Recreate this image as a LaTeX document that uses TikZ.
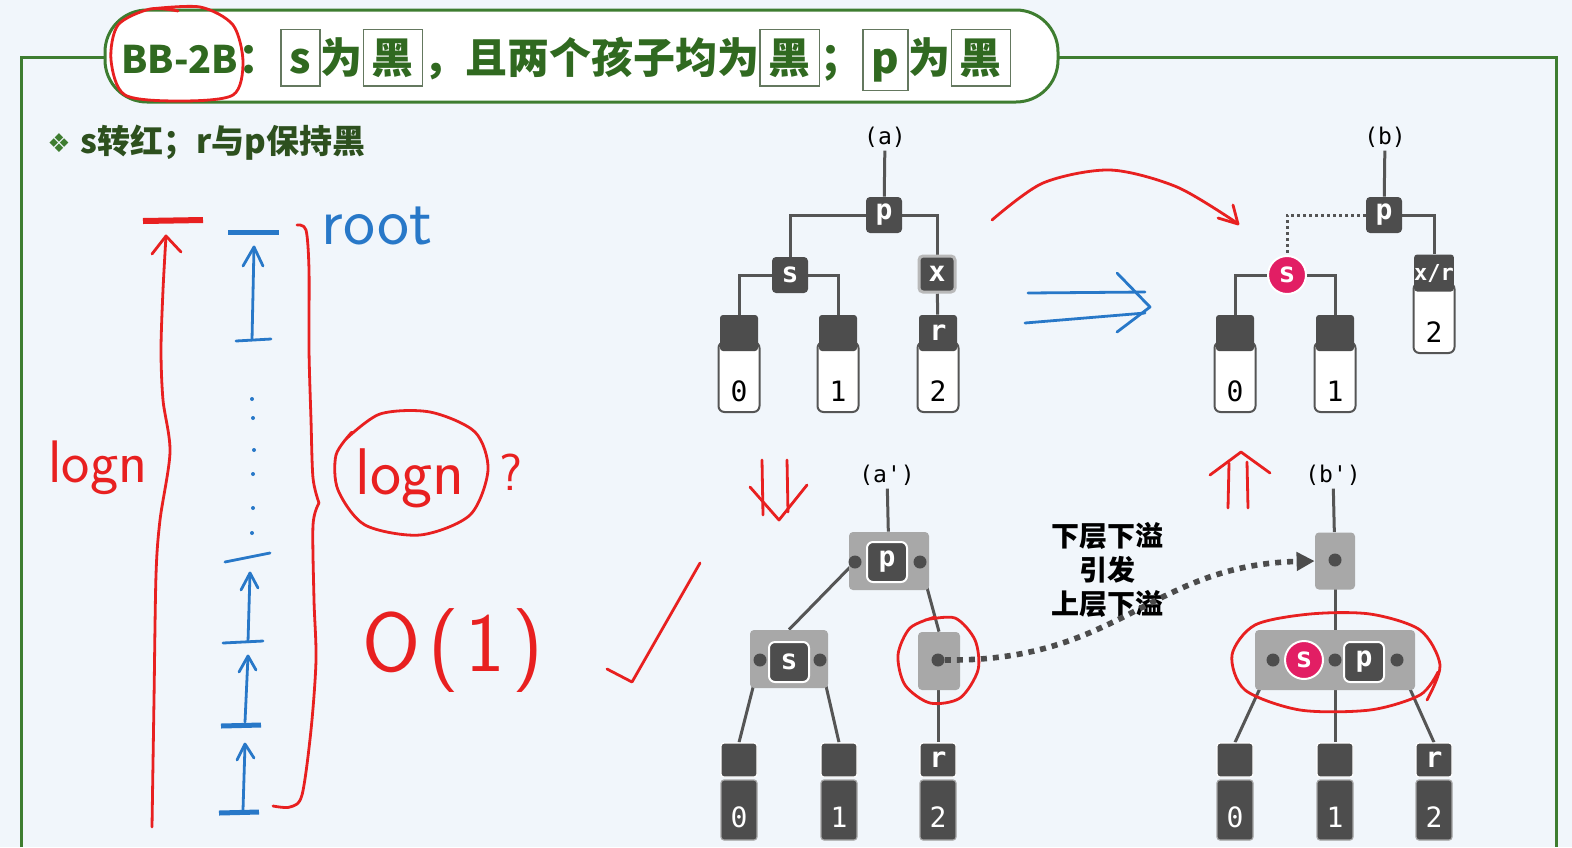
\documentclass[tikz,border=0pt]{standalone}
\usepackage{fontspec}
\usetikzlibrary{arrows.meta}
\newfontfamily\cjk{Noto Sans CJK SC}
\newfontfamily\monof{DejaVu Sans Mono}
\newfontfamily\dejav{DejaVu Sans}
\definecolor{bgc}{RGB}{241,246,251}
\definecolor{framec}{RGB}{62,125,48}
\definecolor{titlec}{RGB}{48,105,32}
\definecolor{subc}{RGB}{45,80,30}
\definecolor{boxc}{RGB}{100,120,95}
\definecolor{nodec}{RGB}{77,77,77}
\definecolor{edgec}{RGB}{85,85,85}
\definecolor{groupc}{RGB}{168,168,168}
\definecolor{pinkc}{RGB}{226,30,100}
\definecolor{redpen}{RGB}{232,32,32}
\definecolor{bluepen}{RGB}{40,120,200}
\pgfdeclarelayer{back}\pgfdeclarelayer{bg}
\pgfsetlayers{back,bg,main}
\newcommand\tb[1]{\fcolorbox{boxc}{white}{\vphantom{黑}#1}}
\setlength\fboxsep{4pt}
\setlength\fboxrule{0.7pt}
\tikzset{
 edge/.style={draw=edgec, line width=1.5pt},
 dk/.style={fill=nodec, rounded corners=2pt, minimum size=18pt, inner sep=0pt, text=white, font=\monof\bfseries\fontsize{14}{14}\selectfont},
 dkw/.style={dk, draw=white, line width=1pt, minimum size=20pt, rounded corners=3pt},
 ltop/.style={fill=nodec, minimum width=19pt, minimum height=18pt, inner sep=0pt, rounded corners=1.5pt, text=white, font=\monof\bfseries\fontsize{14}{14}\selectfont},
 lwhite/.style={draw=edgec, fill=white, line width=1pt, minimum width=20.5pt, minimum height=35pt, rounded corners=3pt, inner sep=0pt},
 ldark/.style={fill=nodec, draw=gray!70, line width=0.6pt, minimum width=18pt, minimum height=30pt, inner sep=0pt, rounded corners=1.5pt},
 ltopd/.style={ltop, draw=white, line width=0.6pt, minimum width=18pt, minimum height=17pt},
 digit/.style={font=\monof\fontsize{14}{14}\selectfont, inner sep=0pt},
 wdigit/.style={digit, text=white},
 grp/.style={fill=groupc, rounded corners=2pt, inner sep=0pt},
 dotn/.style={circle, fill=nodec, minimum size=6.5pt, inner sep=0pt},
 redc/.style={circle, fill=pinkc, draw=white, line width=1pt, minimum size=19pt, inner sep=0pt, text=white, font=\monof\bfseries\fontsize{14}{14}\selectfont},
 lab/.style={font=\monof\fontsize{11.5}{11.5}\selectfont, inner sep=1.5pt},
 dotline/.style={draw=edgec, line width=1.5pt, dash pattern=on 1.5pt off 1.5pt},
 dotarr/.style={draw=edgec!90!black, line width=2.8pt, dash pattern=on 3pt off 3pt, -{Triangle[length=9pt,width=9pt]}},
 rp/.style={draw=redpen, line width=1.4pt, line cap=round, line join=round},
 bp/.style={draw=bluepen, line width=1.4pt, line cap=round, line join=round},
 hand/.style={inner sep=0pt, font=\sffamily\fontsize{#1}{#1}\selectfont},
 frame/.style={draw=framec, line width=1.5pt},
}
\begin{document}
\begin{tikzpicture}[x=0.5pt,y=-0.5pt]
\begin{pgfonlayer}{back}
\fill[bgc] (0,0) rectangle (1572,847);
\end{pgfonlayer}
\useasboundingbox (0,0) rectangle (1572,847);

% frame and title
\draw[frame] (21,847) -- (21,57) -- (105,57);
\draw[frame] (1058,57) -- (1556,57) -- (1556,847);
\node[draw=framec, fill=white, line width=1.5pt, rounded corners=21pt, minimum width=476.5pt, minimum height=46pt, inner sep=0pt] (tbox) at (581.5,56) {};
\node[anchor=base west, inner sep=0pt, text=titlec, font=\cjk\bfseries\fontsize{21}{21}\selectfont] (ttext) at (121,73) {{\fontsize{19}{19}\selectfont BB-2B}：\tb{s}为\tb{黑}，且两个孩子均为\tb{黑}；\tb{p}为\tb{黑}};
\node[anchor=west, inner sep=0pt, text=framec, font=\dejav\fontsize{13}{13}\selectfont] (bul) at (47,143) {❖};
\node[anchor=west, inner sep=0pt, text=subc, font=\cjk\bfseries\fontsize{16.5}{16.5}\selectfont] (sub) at (80,143) {s转红；r与p保持黑};

% ---------- tree (a)
\node[lab] (la) at (885,137) {(a)};
\node[dk] (ap) at (884,215) {p};
\node[dk] (as) at (790,275) {s};
\node[dk, draw=gray!55, line width=1.5pt] (ax) at (937,274) {x};
\node[lwhite] (a0w) at (739,377) {};
\node[ltop] (a0) at (739,333) {};
\node[digit] (a0n) at (739,391) {0};
\node[lwhite] (a1w) at (838,377) {};
\node[ltop] (a1) at (838,333) {};
\node[digit] (a1n) at (838,391) {1};
\node[lwhite] (arw) at (938,377) {};
\node[ltop] (ar) at (938,333) {r};
\node[digit] (arn) at (938,391) {2};

% ---------- tree (b)
\node[lab] (lb) at (1385,137) {(b)};
\node[dk] (bpn) at (1384,215) {p};
\node[redc] (bs) at (1287,275) {s};
\node[lwhite] (bxw) at (1434,318) {};
\node[ltop, minimum height=18.5pt, minimum width=19.5pt, font=\monof\bfseries\fontsize{11}{11}\selectfont] (bxr) at (1434,273) {x/r};
\node[digit] (bxn) at (1434,332) {2};
\node[lwhite] (b0w) at (1235,377) {};
\node[ltop] (b0) at (1235,333) {};
\node[digit] (b0n) at (1235,391) {0};
\node[lwhite] (b1w) at (1335,377) {};
\node[ltop] (b1) at (1335,333) {};
\node[digit] (b1n) at (1335,391) {1};

% ---------- tree (a')
\node[lab] (la2) at (887,475) {(a')};
\node[grp, minimum width=40pt, minimum height=29pt] (apg) at (889,561) {};
\node[dkw] (ap2) at (887,562) {p};
\node[dotn] (apl) at (855,562) {};
\node[dotn] (apr) at (920,562) {};
\node[grp, minimum width=39pt, minimum height=29pt] (asg) at (789,659) {};
\node[dkw] (as2) at (789,662) {s};
\node[dotn] (asl) at (760,660) {};
\node[dotn] (asr) at (820,660) {};
\node[grp, minimum width=21pt, minimum height=29pt] (arg) at (939,661) {};
\node[dotn] (ard) at (938,660) {};
\node[ldark] (c0b) at (739,810) {};
\node[ltopd] (c0) at (739,760) {};
\node[wdigit] (c0n) at (739,817) {0};
\node[ldark] (c1b) at (839,810) {};
\node[ltopd] (c1) at (839,760) {};
\node[wdigit] (c1n) at (839,817) {1};
\node[ldark] (c2b) at (938,810) {};
\node[ltopd] (c2) at (938,760) {r};
\node[wdigit] (c2n) at (938,817) {2};

% ---------- tree (b')
\node[lab] (lb2) at (1333,475) {(b')};
\node[grp, minimum width=20pt, minimum height=28.5pt] (bug) at (1335,561) {};
\node[dotn] (bud) at (1335,560) {};
\node[grp, minimum width=80pt, minimum height=30pt] (bbg) at (1335,660) {};
\node[dotn] (bdl) at (1273,660) {};
\node[redc] (bs2) at (1304,660) {s};
\node[dotn] (bdm) at (1335,660) {};
\node[dkw] (bp2) at (1364,662) {p};
\node[dotn] (bdr) at (1397,660) {};
\node[ldark] (d0b) at (1235,810) {};
\node[ltopd] (d0) at (1235,760) {};
\node[wdigit] (d0n) at (1235,817) {0};
\node[ldark] (d1b) at (1335,810) {};
\node[ltopd] (d1) at (1335,760) {};
\node[wdigit] (d1n) at (1335,817) {1};
\node[ldark] (d2b) at (1434,810) {};
\node[ltopd] (d2) at (1434,760) {r};
\node[wdigit] (d2n) at (1434,817) {2};

\node[align=center, inner sep=0pt, font=\cjk\bfseries\fontsize{14}{17}\selectfont] (mid) at (1107,570) {下层下溢\\引发\\上层下溢};

\begin{pgfonlayer}{bg}
\draw[edge] (la) -- (ap);
\draw[edge] (ap.west) -| (as.north);
\draw[edge] (ap.east) -| (ax.north);
\draw[edge] (as.west) -| (a0.north);
\draw[edge] (as.east) -| (a1.north);
\draw[edge] (ax) -- (ar);
\draw[edge] (lb) -- (bpn);
\draw[dotline] (bpn.west) -| (bs.north);
\draw[edge] (bpn.east) -| (bxr.north);
\draw[edge] (bs.west) -| (b0.north);
\draw[edge] (bs.east) -| (b1.north);
\draw[edge] (la2) -- (apg);
\draw[edge] (apl) -- (asg.north);
\draw[edge] (apr) -- (arg.north);
\draw[edge] (asl) -- (c0.north);
\draw[edge] (asr) -- (c1.north);
\draw[edge] (ard) -- (c2.north);
\draw[edge] (lb2) -- (bug);
\draw[edge] (bud) -- (bdm);
\draw[edge] (bdl) -- (d0.north);
\draw[edge] (bdm) -- (d1.north);
\draw[edge] (bdr) -- (d2.north);
\end{pgfonlayer}
\draw[dotarr] (ard.east) .. controls (1120,662) and (1150,565) .. (bug.west);

% ---------- hand-drawn annotations
% red ellipse around BB-2B
\draw[rp] plot[smooth] coordinates {(150,9) (200,7) (233,25) (243,62) (233,95) (180,101) (125,95) (111,60) (118,25) (150,9) (178,11)};
% red arc arrow
\draw[rp] plot[smooth] coordinates {(992,220) (1043,183) (1110,170) (1177,187) (1237,223)};
\draw[rp] (1218,218) -- (1238,224) -- (1233,205);
% blue double arrow
\draw[bp] (1028,293) -- (1145,292);
\draw[bp] (1025,323) -- (1145,313);
\draw[bp] (1117,273) -- (1150,307) -- (1117,332);
% red down double arrow
\draw[rp] (762,460) -- (763,515);
\draw[rp] (787,460) -- (788,512);
\draw[rp] (750,487) -- (779,520) -- (807,485);
% red up double arrow
\draw[rp] (1228,508) -- (1229,463);
\draw[rp] (1248,508) -- (1247,462);
\draw[rp] (1210,475) -- (1241,452) -- (1270,473);
% red circle in (a')
\draw[rp] plot[smooth] coordinates {(925,620) (955,618) (975,640) (978,670) (960,698) (930,703) (905,685) (898,655) (910,628) (935,617)};
% red ellipse in (b')
\draw[rp] plot[smooth] coordinates {(1427,700) (1440,665) (1420,630) (1370,614) (1310,614) (1255,625) (1232,655) (1245,690) (1300,710) (1370,710) (1420,695) (1438,672)};
% check mark
\draw[rp] (607,669) -- (632,682) -- (700,563);
% left: red long arrow
\draw[rp] plot[smooth] coordinates {(152,827) (154,700) (156,575) (160,520) (170,452) (163,400) (161,350) (163,290) (166,236)};
\draw[rp] (152,254) -- (166,236) -- (181,252);
\draw[rp, line width=3pt, line cap=butt] (143,221) -- (203,220);
\node[hand=30, text=redpen] (logl) at (98,468) {logn};
% red brace
\draw[rp] plot[smooth] coordinates {(297,225) (306,230) (309,270) (309,350) (311,420) (313,478) (319,503)};
\draw[rp] plot[smooth] coordinates {(319,503) (313,525) (314,600) (316,660) (311,730) (302,795) (290,807) (273,806)};
% blue ladder
\draw[bp, line width=2.5pt, line cap=butt] (228,232) -- (279,232);
\draw[bp] (252,340) -- (254,247);
\draw[bp] (243,266) -- (254,247) -- (263,266);
\draw[bp] (236,341) -- (271,339);
\foreach \yy/\xx in {399/252,418/253,450/254,474/253,508/253,533/252} \fill[bluepen] (\xx,\yy) circle (1pt);
\draw[bp] (225,562) -- (270,553);
\draw[bp] (248,642) -- (250,573);
\draw[bp] (241,590) -- (250,573) -- (258,588);
\draw[bp] (223,643) -- (263,641);
\draw[bp] (245,722) -- (248,656);
\draw[bp] (239,672) -- (248,656) -- (256,670);
\draw[bp, line width=2.5pt, line cap=butt] (221,726) -- (261,725);
\draw[bp] (243,810) -- (245,745);
\draw[bp] (237,760) -- (245,744) -- (254,758);
\draw[bp, line width=2.5pt, line cap=butt] (219,813) -- (259,812);
\node[hand=34, text=bluepen] (root) at (377,226) {root};
% circled logn
\node[hand=33, text=redpen] (logc) at (410,478) {logn};
\draw[rp] plot[smooth] coordinates {(345,440) (380,414) (430,412) (475,432) (488,470) (470,515) (420,535) (365,525) (338,490) (336,455) (352,432)};
\node[hand=26, text=redpen] (qm) at (511,472) {?};
\node[hand=42, text=redpen, anchor=west] (o1) at (362,651) {O\hspace{4pt}(\hspace{3pt}1\hspace{4pt})};
\end{tikzpicture}
\end{document}
